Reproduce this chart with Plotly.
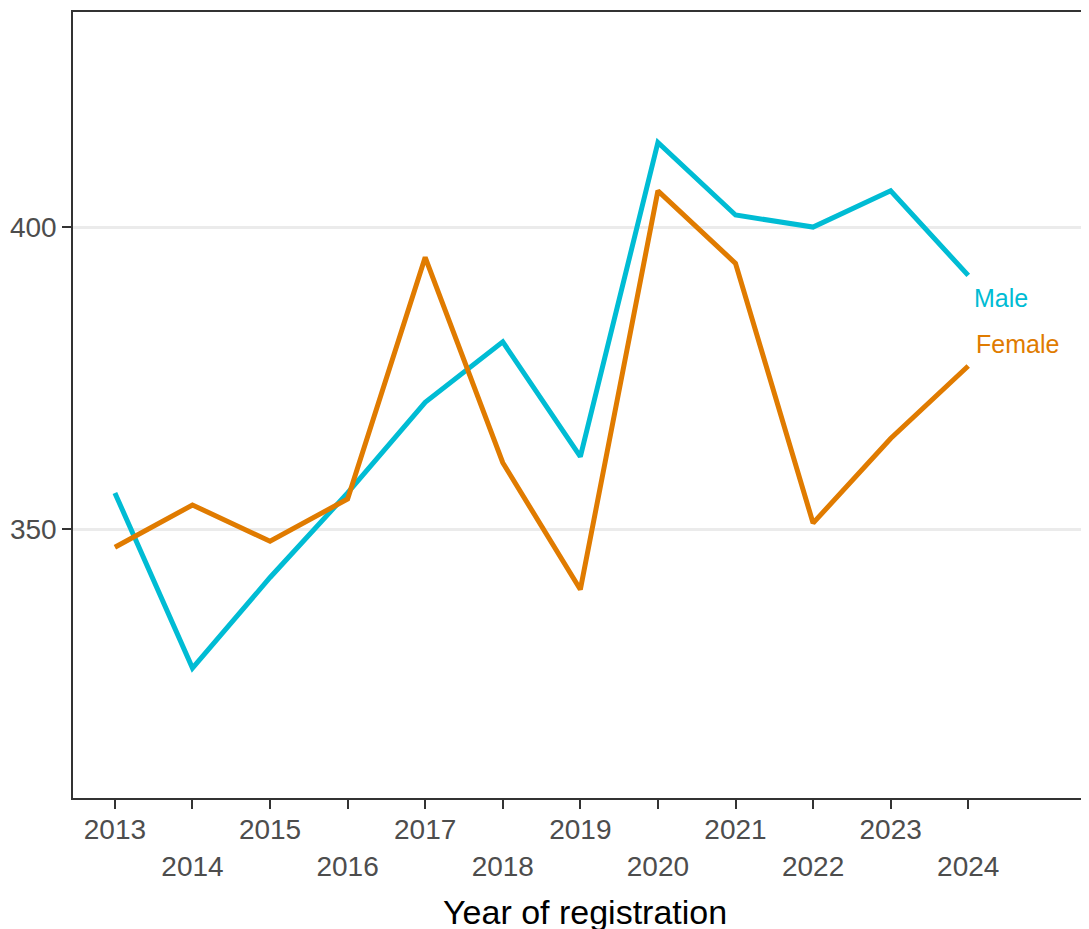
import plotly.graph_objects as go

years = list(range(2013, 2025))
male = [356, 327, 342, 356, 371, 381, 362, 414, 402, 400, 406, 392]
female = [347, 354, 348, 355, 395, 361, 340, 406, 394, 351, 365, 377]
tick_labels = [str(y) if (y % 2 == 1) else "<br>" + str(y) for y in years]
y_ticks = [350, 400]

FONT = "Liberation Sans, Arial, sans-serif"
C_MALE = "#00BCD4"
C_FEMALE = "#E07B00"

fig = go.Figure()
fig.add_trace(go.Scatter(x=years, y=male, mode="lines", name="Male",
                         line=dict(color=C_MALE, width=5)))
fig.add_trace(go.Scatter(x=years, y=female, mode="lines", name="Female",
                         line=dict(color=C_FEMALE, width=5)))

fig.add_annotation(x=years[-1], y=388.2, text="Male", showarrow=False,
                   xanchor="left", xshift=4, font=dict(family=FONT, size=25, color=C_MALE))
fig.add_annotation(x=years[-1], y=380.6, text="Female", showarrow=False,
                   xanchor="left", xshift=6, font=dict(family=FONT, size=25, color=C_FEMALE))
fig.add_annotation(x=0.5, xref="paper", y=-0.145, yref="paper", text="Year of registration",
                   showarrow=False, xanchor="center", yanchor="middle",
                   font=dict(family=FONT, size=34, color="black"))

fig.update_layout(
    width=1089, height=929,
    margin=dict(l=65, r=0, t=4, b=139),
    plot_bgcolor="white", paper_bgcolor="white",
    showlegend=False,
    font=dict(family=FONT),
)
fig.update_xaxes(
    range=[2012.46, 2025.66],
    tickvals=years, ticktext=tick_labels,
    ticks="outside", ticklen=9, tickwidth=2, tickcolor="#333333",
    tickfont=dict(family=FONT, size=28, color="#4D4D4D"),
    ticklabelstandoff=-3,
    showgrid=False, zeroline=False,
    showline=True, linecolor="#333333", linewidth=1.5, mirror=True,
)
fig.update_yaxes(
    range=[305.5, 435.6],
    tickvals=y_ticks,
    ticks="outside", ticklen=9, tickwidth=2, tickcolor="#333333",
    tickfont=dict(family=FONT, size=28, color="#4D4D4D"),
    showgrid=True, gridcolor="#EBEBEB", gridwidth=2.5, zeroline=False,
    showline=True, linecolor="#333333", linewidth=1.5, mirror=False,
)
fig.write_html("out.html", default_width="1081px", default_height="921px")
